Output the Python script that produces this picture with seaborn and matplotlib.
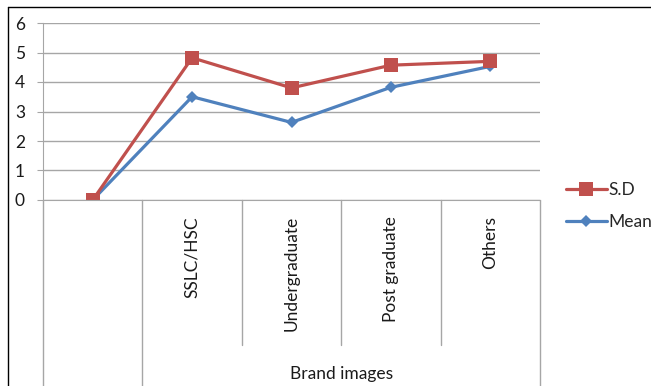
import pandas as pd
import seaborn as sns
import matplotlib.pyplot as plt
from matplotlib.lines import Line2D
from matplotlib.transforms import blended_transform_factory

categories = ["", "SSLC/HSC", "Undergraduate", "Post graduate", "Others"]
group_label = "Brand images"
sd_values = [0, 4.82, 3.8, 4.57, 4.7]
mean_values = [0, 3.5, 2.63, 3.82, 4.53]
y_ticks = [0, 1, 2, 3, 4, 5, 6]

red = "#C0504D"
blue = "#4F81BD"
grid_c = "#a6a6a6"
text_c = "#1a1a1a"
fs = 12.5

sns.set_style("white")
plt.rcParams["font.family"] = ["Lato", "DejaVu Sans"]

df = pd.DataFrame({
    "pos": range(len(categories)),
    "category": categories,
    "S.D": sd_values,
    "Mean": mean_values,
})

fig = plt.figure(figsize=(6.51, 3.86), dpi=100)
ax = fig.add_axes([43 / 651, 1 - 200 / 386, 497 / 651, 177 / 386])

sns.lineplot(data=df, x="pos", y="Mean", ax=ax, color=blue, lw=2.3,
             marker="D", markersize=6.5, markeredgewidth=0, label="Mean")
sns.lineplot(data=df, x="pos", y="S.D", ax=ax, color=red, lw=2.3,
             marker="s", markersize=9.5, markeredgewidth=0, label="S.D")

ax.set_xlim(-0.5, len(categories) - 0.5)
ax.set_ylim(0, 6)
ax.set_yticks(y_ticks)
ax.yaxis.grid(True, color=grid_c, lw=1)
ax.set_axisbelow(True)
for s in ["top", "right"]:
    ax.spines[s].set_visible(False)
ax.spines["left"].set_color(grid_c)
ax.spines["bottom"].set_color(grid_c)
ax.tick_params(axis="y", length=4, color=grid_c, pad=9, labelsize=fs,
               labelcolor=text_c, left=True)
ax.set_xticks([])
ax.set_xlabel("")
ax.set_ylabel("")

# multi-level category axis below the plot
tr = blended_transform_factory(ax.transData, ax.transAxes)
low = -186 / 177
mid = -145 / 177
for b in [-0.5, 0.5, len(categories) - 0.5]:
    ax.add_line(Line2D([b, b], [0, low], transform=tr, color=grid_c,
                       lw=1, clip_on=False))
for b in [1.5, 2.5, 3.5]:
    ax.add_line(Line2D([b, b], [0, mid], transform=tr, color=grid_c,
                       lw=1, clip_on=False))
for i, c in enumerate(categories):
    ax.text(i, -16 / 177, c, transform=tr, rotation=90, ha="center",
            va="top", fontsize=fs, color=text_c)
ax.text((1 + len(categories) - 1) / 2, -174 / 177, group_label, transform=tr,
        ha="center", va="center", fontsize=fs, color=text_c)

# legend
h, l = ax.get_legend_handles_labels()
ax.legend(h[::-1], l[::-1], loc="center left", frameon=False,
          bbox_to_anchor=(566 / 651, 1 - 206 / 386),
          bbox_transform=fig.transFigure, fontsize=fs,
          handlelength=2.35, handletextpad=0.08, labelspacing=0.95,
          borderpad=0, borderaxespad=0)

# outer chart border (cut off at right and bottom)
fig.add_artist(Line2D([8 / 651, 8 / 651], [0, 1 - 7 / 386], color="black", lw=1))
fig.add_artist(Line2D([8 / 651, 1], [1 - 7 / 386, 1 - 7 / 386], color="black", lw=1))

fig.savefig("out.png", dpi=100)
